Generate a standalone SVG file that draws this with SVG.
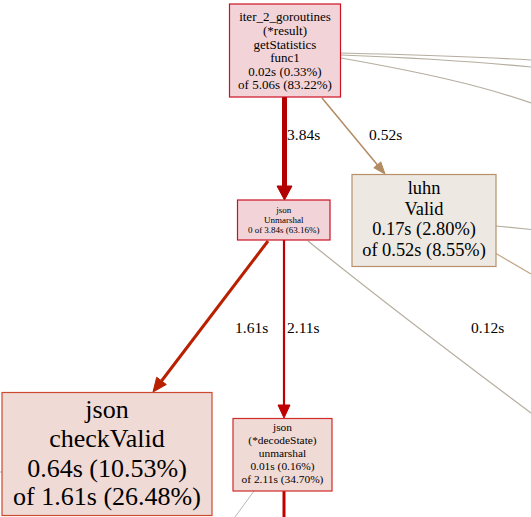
<svg xmlns="http://www.w3.org/2000/svg" width="531" height="517" viewBox="0 0 531 517">
<style>
text{font-family:"Liberation Serif","Times New Roman",serif;text-anchor:middle;fill:#000}
.lbl{text-anchor:start;font-size:15.5px}
.gray{fill:none;stroke:#b5ae9f;stroke-width:1.2}
</style>
<rect width="531" height="517" fill="#fff"/>
<g id="connectors">
  <!-- off-screen edges from node 1 -->
  <path class="gray" d="M341,53 C420,55 480,57 531,60" stroke-width="2"/>
  <path class="gray" d="M341,55 C420,58 480,62 531,67" stroke-width="2"/>
  <path class="gray" d="M341,58 C420,72 480,85 531,103"/>
  <!-- iter -> json Unmarshal -->
  <line x1="284.5" y1="97" x2="284.5" y2="187" stroke="#b20000" stroke-width="5"/>
  <polygon points="277,186 292,186 284.5,200" fill="#b20000" stroke="#b20000"/>
  <text class="lbl" x="287" y="140">3.84s</text>
  <!-- iter -> luhn Valid -->
  <line x1="322" y1="98" x2="377.5" y2="165" stroke="#b28b62" stroke-width="1.5"/>
  <polygon points="373.8,167.7 380.8,161.9 385,174" fill="#b28b62" stroke="#b28b62"/>
  <text class="lbl" x="369" y="140">0.52s</text>
  <!-- json Unmarshal -> checkValid -->
  <line x1="268" y1="241" x2="161.5" y2="381" stroke="#b82000" stroke-width="3"/>
  <polygon points="166.3,384.5 156.7,377.3 153,392" fill="#b82000" stroke="#b82000"/>
  <text class="lbl" x="235" y="333">1.61s</text>
  <!-- json Unmarshal -> decodeState -->
  <line x1="284" y1="240" x2="284" y2="406" stroke="#c00000" stroke-width="2.2"/>
  <polygon points="278,405 290,405 284,418" fill="#c00000" stroke="#c00000"/>
  <text class="lbl" x="287" y="333">2.11s</text>
  <!-- json Unmarshal -> off-screen -->
  <path class="gray" d="M308,241 C350,275 440,345 531,413"/>
  <text class="lbl" x="471" y="333">0.12s</text>
  <!-- luhn -> off-screen -->
  <line x1="496" y1="226" x2="531" y2="229.5" stroke="#b5ae9f" stroke-width="1.2"/>
  <line x1="496" y1="253.5" x2="531" y2="274" stroke="#c4a888" stroke-width="1.2"/>
  <!-- decodeState -> off-screen -->
  <line x1="284" y1="491" x2="284" y2="517" stroke="#c00000" stroke-width="3"/>
  <line x1="254" y1="491" x2="235" y2="517" stroke="#b8b8b8" stroke-width="1"/>
  <line x1="0" y1="472" x2="2" y2="472" stroke="#b8b8b8" stroke-width="1"/>
</g>
<g id="node-getStatistics">
  <rect x="229.5" y="4" width="111" height="93" fill="#f2d4d8" stroke="#cc1122" stroke-width="1.2"/>
  <g font-size="13">
    <text x="285" y="20.7">iter_2_goroutines</text>
    <text x="285" y="34.7">(*result)</text>
    <text x="285" y="48.7">getStatistics</text>
    <text x="285" y="62.3">func1</text>
    <text x="285" y="75.8">0.02s (0.33%)</text>
    <text x="285" y="89.3">of 5.06s (83.22%)</text>
  </g>
</g>
<g id="node-json-Unmarshal">
  <rect x="237.5" y="200" width="92.5" height="40" fill="#f2d4d8" stroke="#cc1122" stroke-width="1.2"/>
  <g font-size="9">
    <text x="283.75" y="212.5">json</text>
    <text x="283.75" y="222.5">Unmarshal</text>
    <text x="283.75" y="233">0 of 3.84s (63.16%)</text>
  </g>
</g>
<g id="node-luhn-Valid">
  <rect x="352" y="174.5" width="144" height="92" fill="#ede8e1" stroke="#b8916a" stroke-width="1.2"/>
  <g font-size="18.4">
    <text x="424" y="194">luhn</text>
    <text x="424" y="214.5">Valid</text>
    <text x="424" y="235">0.17s (2.80%)</text>
    <text x="424" y="255.5">of 0.52s (8.55%)</text>
  </g>
</g>
<g id="node-json-checkValid">
  <rect x="2" y="392.5" width="210" height="123" fill="#f0dad5" stroke="#cc4a30" stroke-width="1.2"/>
  <g font-size="26">
    <text x="107" y="418">json</text>
    <text x="107" y="447">checkValid</text>
    <text x="107" y="477">0.64s (10.53%)</text>
    <text x="107" y="505">of 1.61s (26.48%)</text>
  </g>
</g>
<g id="node-decodeState-unmarshal">
  <rect x="233" y="418.5" width="99" height="72.5" fill="#f0dad6" stroke="#d02a2a" stroke-width="1.2"/>
  <g font-size="11.4">
    <text x="282.5" y="430.7">json</text>
    <text x="282.5" y="443.5">(*decodeState)</text>
    <text x="282.5" y="456.7">unmarshal</text>
    <text x="282.5" y="470">0.01s (0.16%)</text>
    <text x="282.5" y="482.7">of 2.11s (34.70%)</text>
  </g>
</g>
</svg>
